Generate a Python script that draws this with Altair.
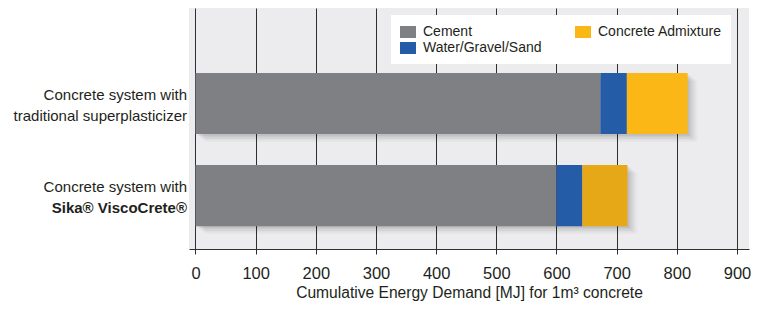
import altair as alt
import pandas as pd

# ---- data ----
categories = ["traditional", "sika"]
line1 = ["Concrete system with", "Concrete system with"]
line2 = ["traditional superplasticizer", "Sika® ViscoCrete®"]
line2_bold = [False, True]

components = ["Cement", "Water/Gravel/Sand", "Concrete Admixture"]
traditional_values = [673, 44, 101]
sika_values = [600, 43, 75]

color_keys = ["Cement", "Water/Gravel/Sand", "Concrete Admixture", "Concrete Admixture (ViscoCrete)"]
color_range = ["#7f8084", "#255ca8", "#fbb716", "#e6a817"]
# legend is filled column by column: Cement, Water/Gravel/Sand | Concrete Admixture
legend_values = ["Cement", "Water/Gravel/Sand", "Concrete Admixture"]

x_ticks = [0, 100, 200, 300, 400, 500, 600, 700, 800, 900]

FONT = "Liberation Sans, Arial, sans-serif"
TEXT = "#231f20"

rows = []
for cat, vals in zip(categories, [traditional_values, sika_values]):
    for i, (comp, v) in enumerate(zip(components, vals)):
        key = comp
        if cat == "sika" and comp == "Concrete Admixture":
            key = "Concrete Admixture (ViscoCrete)"
        rows.append({"category": cat, "component": comp, "key": key, "value": v, "order": i})
df = pd.DataFrame(rows)

totals = df.groupby("category", as_index=False)["value"].sum()
labels = pd.DataFrame({"category": categories, "line1": line1, "line2": line2, "bold": line2_bold})

y_enc = alt.Y(
    "category:N",
    sort=categories,
    axis=None,
    scale=alt.Scale(paddingInner=0.337, paddingOuter=0.478, align=0.74),
)

x_scale = alt.Scale(domain=[-10.8, 920], nice=False, zero=False)

# soft shadows
shadows = []
for off, op in [(2, 0.06), (4, 0.05), (6, 0.04), (8, 0.03), (10, 0.02)]:
    shadows.append(
        alt.Chart(totals)
        .mark_bar(color="black", opacity=op, xOffset=off, yOffset=off * 0.8)
        .encode(x=alt.X("value:Q", scale=x_scale), y=y_enc)
    )

bars = (
    alt.Chart(df)
    .mark_bar()
    .encode(
        x=alt.X(
            "value:Q",
            stack="zero",
            scale=x_scale,
            title="Cumulative Energy Demand [MJ] for 1m³ concrete",
            axis=alt.Axis(
                values=x_ticks,
                grid=True,
                gridColor="#2f2f2f",
                gridWidth=1,
                gridOpacity=1,
                domainColor="#2f2f2f",
                tickColor="#2f2f2f",
                tickSize=5,
                labelFont=FONT,
                labelFontSize=16.5,
                labelColor=TEXT,
                labelPadding=11,
                titleFont=FONT,
                titleFontSize=15.6,
                titleFontWeight="normal",
                titleColor=TEXT,
                titlePadding=4,
            ),
        ),
        y=y_enc,
        color=alt.Color(
            "key:N",
            scale=alt.Scale(domain=color_keys, range=color_range),
            legend=alt.Legend(
                values=legend_values,
                title=None,
                orient="none",
                legendX=202,
                legendY=7,
                columns=2,
                columnPadding=33,
                rowPadding=1,
                fillColor="white",
                padding=9,
                symbolType="M-1,-0.75H1V0.75H-1Z",
                symbolSize=256,
                symbolStrokeWidth=0,
                symbolOpacity=1,
                labelFont=FONT,
                labelFontSize=14,
                labelColor=TEXT,
                labelOffset=7,
                labelLimit=300,
            ),
        ),
        order=alt.Order("order:Q"),
    )
)

txt1 = (
    alt.Chart(labels)
    .mark_text(align="right", baseline="alphabetic", dy=-4, font=FONT, fontSize=15, color=TEXT)
    .encode(y=y_enc, x=alt.value(-2), text="line1:N")
)
txt2 = (
    alt.Chart(labels)
    .transform_filter("!datum.bold")
    .mark_text(align="right", baseline="alphabetic", dy=17, font=FONT, fontSize=15, color=TEXT)
    .encode(y=y_enc, x=alt.value(-2), text="line2:N")
)
txt3 = (
    alt.Chart(labels)
    .transform_filter("datum.bold")
    .mark_text(align="right", baseline="alphabetic", dy=17, font=FONT, fontSize=15, fontWeight="bold", color=TEXT)
    .encode(y=y_enc, x=alt.value(-2), text="line2:N")
)

chart = (
    alt.layer(*shadows, bars, txt1, txt2, txt3)
    .properties(
        width=560,
        height=241,
        autosize=alt.AutoSizeParams(type="none"),
        padding={"left": 181, "top": 0, "right": 2, "bottom": 60},
        background="white",
    )
    .configure_view(stroke=None, fill="#ececee")
)

chart.save("out.html", embed_options={"renderer": "svg", "actions": False})
